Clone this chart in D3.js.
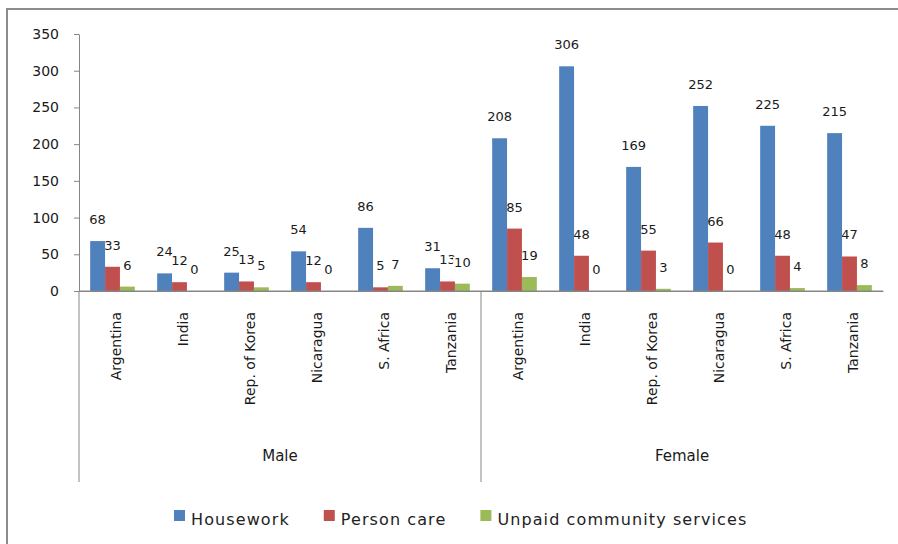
<!DOCTYPE html>
<html>
<head>
<meta charset="utf-8">
<script src="https://cdn.jsdelivr.net/npm/d3@7"></script>
<style>
  html, body { margin: 0; padding: 0; background: #fff; }
  svg { display: block; font-family: "DejaVu Sans", sans-serif; }
</style>
</head>
<body>
<svg id="chart" width="898" height="544"></svg>
<script>
// Time spent per day (minutes) on unpaid work, by sex and country
const groups = ["Male", "Female"];
const countries = ["Argentina", "India", "Rep. of Korea", "Nicaragua", "S. Africa", "Tanzania"];
const seriesNames = ["Housework", "Person care", "Unpaid community services"];
// values run Male (6 countries) then Female (6 countries)
const housework  = [68, 24, 25, 54, 86, 31, 208, 306, 169, 252, 225, 215];
const personCare = [33, 12, 13, 12, 5, 13, 85, 48, 55, 66, 48, 47];
const unpaid     = [6, 0, 5, 0, 7, 10, 19, 0, 3, 0, 4, 8];
const yTicks = [0, 50, 100, 150, 200, 250, 300, 350];

const colors = ["#4F81BD", "#C0504D", "#9BBB59"];
const seriesValues = [housework, personCare, unpaid];
const textColor = "#1a1a1a";

// category rows: one per (group, country)
const rows = [];
groups.forEach((g, gi) => countries.forEach((c, ci) => {
  const i = gi * countries.length + ci;
  rows.push({ key: String(i), group: g, country: c,
    values: seriesNames.map((s, si) => ({ series: s, si, value: seriesValues[si][i] })) });
}));

const svg = d3.select("#chart");
const axisColor = "#868686";

// outer frame (left and top edges)
svg.append("path")
  .attr("d", "M7,544 L7,9 L898,9")
  .attr("fill", "none").attr("stroke", "#8c8c8c").attr("stroke-width", 2);

const x0 = 79, x1 = 883, yTop = 34, yBase = 291, yBottom = 482;
const x = d3.scaleBand().domain(rows.map(r => r.key)).range([x0, x1]).padding(0);
const xs = d3.scaleBand().domain(seriesNames).range([0, x.bandwidth()])
  .paddingInner(0).paddingOuter(0.75);
const y = d3.scaleLinear().domain([0, 350]).range([yBase, yTop]);

// y axis
const yAxis = svg.append("g").attr("transform", `translate(${x0},0)`)
  .call(d3.axisLeft(y).tickValues(yTicks).tickSize(5).tickSizeOuter(0).tickPadding(15));
yAxis.select(".domain").attr("stroke", axisColor);
yAxis.selectAll(".tick line").attr("stroke", axisColor);
yAxis.selectAll(".tick text").attr("font-size", 14).attr("fill", textColor)
  .attr("font-family", "DejaVu Sans");

// x axis baseline and category labels
const xAxis = svg.append("g").attr("transform", `translate(0,${yBase})`)
  .call(d3.axisBottom(x).tickSize(0).tickSizeOuter(0)
    .tickFormat(k => rows[+k].country));
xAxis.select(".domain").attr("stroke", axisColor);
xAxis.selectAll(".tick text")
  .attr("font-size", 14).attr("fill", textColor).attr("font-family", "DejaVu Sans")
  .attr("text-anchor", "end")
  .attr("dy", null)
  .attr("y", 0)
  .attr("transform", "translate(8,21) rotate(-90)");

// group separators
const groupBounds = groups.map((g, gi) => {
  const first = x(String(gi * countries.length));
  const last = x(String(gi * countries.length + countries.length - 1)) + x.bandwidth();
  return { group: g, start: first, end: last };
});
svg.append("g").selectAll("line")
  .data([groupBounds[0].start, groupBounds[1].start])
  .join("line")
  .attr("x1", d => d).attr("x2", d => d)
  .attr("y1", yBase).attr("y2", yBottom)
  .attr("stroke", axisColor);

svg.append("g").selectAll("text")
  .data(groupBounds)
  .join("text")
  .attr("x", d => (d.start + d.end) / 2)
  .attr("y", 461)
  .attr("text-anchor", "middle")
  .attr("font-size", 15).attr("fill", textColor)
  .text(d => d.group);

// value labels (white boxes, drawn beneath the bars)
const labelLayer = svg.append("g");
seriesNames.forEach((s, si) => {
  rows.forEach(r => {
    const v = r.values[si];
    const cx = x(r.key) + xs(s) + xs.bandwidth() / 2;
    const g = labelLayer.append("g");
    const t = g.append("text")
      .attr("x", cx).attr("y", y(v.value) - 17)
      .attr("text-anchor", "middle")
      .attr("font-size", 13).attr("fill", textColor)
      .text(v.value);
    const bb = t.node().getBBox();
    g.insert("rect", "text")
      .attr("x", bb.x - 1).attr("y", bb.y + 2)
      .attr("width", bb.width + 2).attr("height", bb.height - 3)
      .attr("fill", "#fff");
  });
});

// bars
const barLayer = svg.append("g");
barLayer.selectAll("g")
  .data(rows)
  .join("g")
  .attr("transform", d => `translate(${x(d.key)},0)`)
  .selectAll("rect")
  .data(d => d.values)
  .join("rect")
  .attr("x", d => xs(d.series))
  .attr("width", xs.bandwidth())
  .attr("y", d => y(d.value))
  .attr("height", d => yBase - y(d.value))
  .attr("fill", d => colors[d.si]);

// redraw baseline on top of bars
svg.append("line")
  .attr("x1", x0).attr("x2", x1).attr("y1", yBase).attr("y2", yBase)
  .attr("stroke", axisColor);

// legend
const legend = svg.append("g");
let lx = 174;
seriesNames.forEach((s, si) => {
  legend.append("rect")
    .attr("x", lx).attr("y", 510).attr("width", 11).attr("height", 11)
    .attr("fill", colors[si]);
  const t = legend.append("text")
    .attr("x", lx + 17).attr("y", 525)
    .attr("font-size", 16).attr("letter-spacing", 1.1).attr("fill", "#222")
    .text(s);
  lx = lx + 17 + t.node().getComputedTextLength() + 34;
});
</script>
</body>
</html>
